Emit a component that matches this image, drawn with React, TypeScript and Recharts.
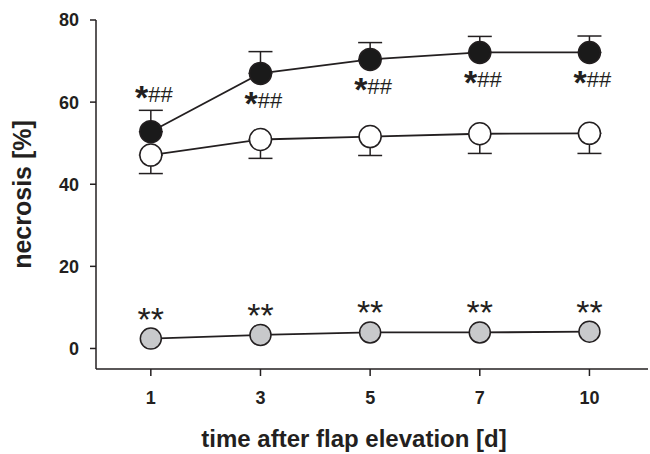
import {
  LineChart,
  Line,
  XAxis,
  YAxis,
  ErrorBar,
  Label,
} from 'recharts';

const days = ['1', '3', '5', '7', '10'];
const blackMean = [52.8, 67.0, 70.4, 72.1, 72.1];
const blackSem = [5.2, 5.3, 4.1, 3.9, 4.0];
const whiteMean = [47.1, 50.9, 51.6, 52.3, 52.4];
const whiteSem = [4.5, 4.6, 4.6, 4.8, 4.9];
const greyMean = [2.4, 3.3, 3.9, 3.9, 4.1];
// significance marks: '*' vs. control, '##' vs. grey group
const blackStar = ['*', '*', '*', '*', '*'];
const blackHash = ['##', '##', '##', '##', '##'];
const greyNote = ['**', '**', '**', '**', '**'];
const yTicks = [0, 20, 40, 60, 80];

const INK = '#231f20';
const FONT = '"Liberation Sans", Arial, Helvetica, sans-serif';

const data = days.map((d, i) => ({
  idx: i,
  day: d,
  black: blackMean[i],
  blackErr: [0, blackSem[i]],
  white: whiteMean[i],
  whiteErr: [whiteSem[i], 0],
  grey: greyMean[i],
}));

function BlackDot(props: any) {
  const { cx, cy, index } = props;
  if (cx == null || cy == null) return null;
  // first day's mark sits above the bar, the rest below the marker
  const ty = index === 0 ? cy - 30 : cy + 35;
  return (
    <g>
      <circle cx={cx} cy={cy} r={11} fill="#1a1a1a" stroke={INK} strokeWidth={1.5} />
      <text x={cx + 3} y={ty} textAnchor="middle" fontFamily={FONT} fill={INK}>
        <tspan fontSize={34} fontWeight="bold" dy={7}>{blackStar[index]}</tspan>
        <tspan fontSize={22} dy={-7}>{blackHash[index]}</tspan>
      </text>
    </g>
  );
}

function WhiteDot(props: any) {
  const { cx, cy } = props;
  if (cx == null || cy == null) return null;
  return <circle cx={cx} cy={cy} r={11} fill="#ffffff" stroke={INK} strokeWidth={1.5} />;
}

function GreyDot(props: any) {
  const { cx, cy, index } = props;
  if (cx == null || cy == null) return null;
  return (
    <g>
      <circle cx={cx} cy={cy} r={10.5} fill="#c8c9cb" stroke={INK} strokeWidth={1.5} />
      <text x={cx} y={cy - 8} textAnchor="middle" fontFamily={FONT} fontSize={34} fill={INK}>
        {greyNote[index]}
      </text>
    </g>
  );
}

export default function App() {
  return (
    <div style={{ width: 650, height: 454, background: '#fff' }}>
      <style>{'body{margin:0}'}</style>
      <LineChart
        width={650}
        height={454}
        data={data}
        margin={{ top: 20, right: 2, bottom: 0, left: 0 }}
      >
        <XAxis
          dataKey="idx"
          type="number"
          domain={[-0.5, 4.534]}
          ticks={[0, 1, 2, 3, 4]}
          tickFormatter={(v: number) => days[v]}
          height={85}
          tickSize={7}
          tickMargin={15}
          stroke={INK}
          strokeWidth={1.5}
          tick={{ fontSize: 18, fontWeight: 'bold', fill: INK, fontFamily: FONT }}
        >
          <Label
            value="time after flap elevation [d]"
            position="insideBottom"
            offset={7}
            dx={-18}
            style={{ fontSize: 24, fontWeight: 'bold', fill: INK, fontFamily: FONT }}
          />
        </XAxis>
        <YAxis
          type="number"
          domain={[-5, 80]}
          ticks={yTicks}
          width={96}
          tickSize={6}
          tickMargin={11}
          stroke={INK}
          strokeWidth={1.5}
          tick={{ fontSize: 18, fontWeight: 'bold', fill: INK, fontFamily: FONT }}
        >
          <Label
            value="necrosis [%]"
            angle={-90}
            position="insideLeft"
            offset={22}
            style={{ fontSize: 25, fontWeight: 'bold', fill: INK, fontFamily: FONT, textAnchor: 'middle' }}
          />
        </YAxis>
        <Line
          dataKey="black"
          stroke={INK}
          strokeWidth={1.8}
          dot={<BlackDot />}
          activeDot={false}
          isAnimationActive={false}
        >
          <ErrorBar dataKey="blackErr" width={12} stroke={INK} strokeWidth={1.5} direction="y" />
        </Line>
        <Line
          dataKey="white"
          stroke={INK}
          strokeWidth={1.8}
          dot={<WhiteDot />}
          activeDot={false}
          isAnimationActive={false}
        >
          <ErrorBar dataKey="whiteErr" width={12} stroke={INK} strokeWidth={1.5} direction="y" />
        </Line>
        <Line
          dataKey="grey"
          stroke={INK}
          strokeWidth={1.8}
          dot={<GreyDot />}
          activeDot={false}
          isAnimationActive={false}
        />
      </LineChart>
    </div>
  );
}
